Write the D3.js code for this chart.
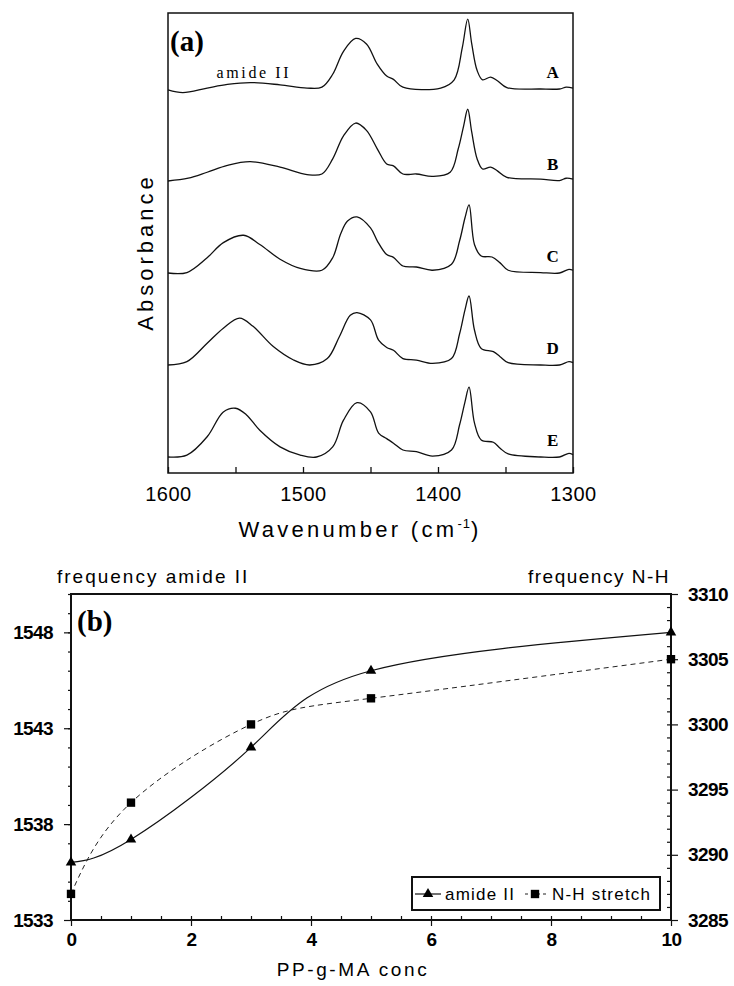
<!DOCTYPE html>
<html lang="en">
<head>
<meta charset="UTF-8">
<title>FTIR spectra and band frequencies</title>
<script src="https://d3js.org/d3.v7.min.js"></script>
<style>
  body { margin: 0; background: #fff; }
  svg { display: block; }
  .sans { font-family: "Liberation Sans", Arial, Helvetica, sans-serif; }
  .serif { font-family: "Liberation Serif", "Times New Roman", serif; }
</style>
</head>
<body>
<div id="chart"></div>
<script>
// ---- panel (a): spectra as [wavenumber, absorbance above own baseline] ----
const specA = [[1600,-0.01],[1589,-0.04],[1571,0.01],[1556,0.05],[1539,0.07],[1517,0.045],[1497,0.01],[1486,0.02],
  [1478,0.16],[1470,0.41],[1461,0.55],[1453,0.49],[1445,0.27],[1438,0.14],[1433,0.105],[1426,0.02],[1398,0.01],
  [1388,0.1],[1382,0.45],[1378,0.76],[1375,0.49],[1371,0.2],[1367,0.1],[1361,0.13],[1356,0.09],[1349,0.015],
  [1324,0],[1310,0],[1305,0.02],[1300,0.01]];
const specB = [[1600,0],[1585,0.03],[1571,0.095],[1556,0.17],[1539,0.21],[1517,0.15],[1497,0.07],[1486,0.076],
  [1478,0.24],[1470,0.49],[1461,0.63],[1453,0.55],[1445,0.35],[1438,0.185],[1433,0.165],[1426,0.076],[1416,0.076],
  [1404,0.05],[1391,0.095],[1385,0.35],[1381,0.6],[1378,0.78],[1375,0.53],[1371,0.24],[1367,0.13],[1361,0.15],
  [1356,0.11],[1349,0.04],[1324,0.02],[1310,0.005],[1305,0.03],[1300,0.02]];
const specC = [[1600,0],[1586,0.005],[1571,0.166],[1559,0.33],[1544,0.41],[1532,0.31],[1517,0.15],[1502,0.05],
  [1486,0.03],[1478,0.166],[1472,0.43],[1467,0.565],[1460,0.61],[1450,0.49],[1445,0.35],[1438,0.2],[1433,0.17],
  [1426,0.076],[1416,0.065],[1404,0.03],[1390,0.095],[1384,0.35],[1380,0.6],[1377,0.74],[1373,0.31],[1368,0.185],
  [1360,0.174],[1354,0.11],[1348,0.03],[1324,0.005],[1310,0],[1303,0.04],[1300,0.03]];
const specD = [[1600,0],[1586,0.036],[1571,0.236],[1559,0.4],[1547,0.51],[1537,0.42],[1522,0.2],[1507,0.054],
  [1495,0],[1482,0.07],[1473,0.31],[1465,0.54],[1460,0.57],[1450,0.49],[1444,0.27],[1438,0.19],[1433,0.16],
  [1426,0.07],[1416,0.054],[1404,0.018],[1390,0.07],[1384,0.34],[1380,0.6],[1377,0.75],[1373,0.38],[1368,0.18],
  [1359,0.145],[1354,0.09],[1348,0.025],[1324,0],[1310,0],[1303,0.036],[1300,0.025]];
const specE = [[1600,0],[1586,0.02],[1571,0.22],[1559,0.49],[1550,0.53],[1542,0.46],[1532,0.29],[1517,0.11],
  [1502,0.02],[1490,0],[1478,0.11],[1470,0.4],[1460,0.59],[1450,0.49],[1444,0.26],[1438,0.2],[1433,0.15],
  [1426,0.076],[1416,0.058],[1404,0.01],[1390,0.076],[1384,0.35],[1380,0.6],[1377,0.76],[1373,0.37],[1368,0.185],
  [1359,0.16],[1354,0.095],[1348,0.033],[1324,0],[1310,0],[1303,0.04],[1300,0.025]];
const spectra = [specA, specB, specC, specD, specE];
const specLabels = ["A", "B", "C", "D", "E"];
const specOffsets = [4, 3, 2, 1, 0];
const wnTicks = [1600, 1550, 1500, 1450, 1400, 1350, 1300];

// ---- panel (b): band frequency vs PP-g-MA concentration ----
const conc = [0, 1, 3, 5, 10];
const amideFreq = [1536.0, 1537.2, 1542.0, 1546.0, 1548.0];
const nhFreq = [3287, 3294, 3300, 3302, 3305];
const concTicks = [0, 2, 4, 6, 8, 10];
const amideTicks = [1533, 1538, 1543, 1548];
const nhTicks = [3285, 3290, 3295, 3300, 3305, 3310];

const svg = d3.select("#chart").append("svg")
  .attr("width", 734).attr("height", 986);
svg.append("rect").attr("width", 734).attr("height", 986).attr("fill", "#fff");

// ================= panel (a) =================
const xA = d3.scaleLinear().domain([1600, 1300]).range([168, 573]);
const yA = d3.scaleLinear().domain([-0.174, 4.826]).range([473, 13]);

const line = d3.line().curve(d3.curveCatmullRom.alpha(0.5));

spectra.forEach((spec, i) => {
  svg.append("path")
    .attr("d", line(spec.map(d => [xA(d[0]), yA(d[1] + specOffsets[i])])))
    .attr("fill", "none")
    .attr("stroke", "#111")
    .attr("stroke-width", 1.3);

  svg.append("text")
    .attr("class", "serif")
    .attr("x", xA(1315)).attr("y", yA(specOffsets[i] + 0.115))
    .attr("text-anchor", "middle")
    .attr("font-size", 17).attr("font-weight", "bold")
    .text(specLabels[i]);
});

// frame
svg.append("rect")
  .attr("x", xA(1600)).attr("y", yA.range()[1])
  .attr("width", xA(1300) - xA(1600)).attr("height", yA.range()[0] - yA.range()[1])
  .attr("fill", "none").attr("stroke", "#111").attr("stroke-width", 1.5);

const axA = svg.append("g")
  .attr("transform", `translate(0,${yA.range()[0]})`)
  .call(d3.axisBottom(xA).tickValues(wnTicks).tickSize(-6).tickPadding(14)
    .tickFormat(d => d % 100 === 0 ? d : ""));
axA.select(".domain").remove();
axA.selectAll("line").attr("stroke", "#111").attr("stroke-width", 1.3);
axA.selectAll("text").attr("class", "sans").attr("font-size", 20)
  .attr("letter-spacing", 0.5).attr("fill", "#000");

svg.append("text").attr("class", "serif")
  .attr("x", 170).attr("y", 51)
  .attr("font-size", 29).attr("font-weight", "bold").text("(a)");

svg.append("text").attr("class", "serif")
  .attr("x", xA(1564)).attr("y", yA(4.12))
  .attr("font-size", 16).attr("letter-spacing", 2.6)
  .text("amide II");

const wn = svg.append("text").attr("class", "sans")
  .attr("x", 360).attr("y", 537)
  .attr("text-anchor", "middle")
  .attr("font-size", 22).attr("letter-spacing", 3.3);
wn.append("tspan").text("Wavenumber (cm");
wn.append("tspan").attr("font-size", 13).attr("dy", -9).attr("letter-spacing", 1).text("-1");
wn.append("tspan").attr("dy", 9).text(")");

svg.append("text").attr("class", "sans")
  .attr("transform", "translate(153,252) rotate(-90)")
  .attr("text-anchor", "middle")
  .attr("font-size", 22).attr("letter-spacing", 4)
  .text("Absorbance");

// ================= panel (b) =================
const xB = d3.scaleLinear().domain([0, 10]).range([71, 671]);
const yL = d3.scaleLinear().domain([1533, 1550]).range([920, 594]);
const yR = d3.scaleLinear().domain([3285, 3310]).range([920, 594]);
const fmt = d3.format("d");

function styleAxis(g) {
  g.select(".domain").remove();
  g.selectAll("line").attr("stroke", "#111").attr("stroke-width", 1.2);
  g.selectAll("text").attr("class", "sans").attr("font-size", 19)
    .attr("font-weight", "bold").attr("letter-spacing", -0.6).attr("fill", "#000");
}

// minor ticks
svg.append("g").attr("transform", `translate(${xB(0)},0)`)
  .call(d3.axisLeft(yL).tickValues(d3.range(1534, 1551)).tickSize(3).tickFormat(""))
  .call(styleAxis);
svg.append("g").attr("transform", `translate(${xB(10)},0)`)
  .call(d3.axisRight(yR).tickValues(d3.range(3286, 3310)).tickSize(-4).tickFormat(""))
  .call(styleAxis);
svg.append("g").attr("transform", `translate(0,${yL(1533)})`)
  .call(d3.axisBottom(xB).tickValues(d3.range(0.5, 10, 0.5)).tickSize(-4).tickFormat(""))
  .call(styleAxis);

// major ticks + labels
svg.append("g").attr("transform", `translate(${xB(0)},0)`)
  .call(d3.axisLeft(yL).tickValues(amideTicks).tickSize(7).tickPadding(11).tickFormat(fmt))
  .call(styleAxis);
svg.append("g").attr("transform", `translate(${xB(10)},0)`)
  .call(d3.axisRight(yR).tickValues(nhTicks).tickSize(7).tickPadding(10).tickFormat(fmt))
  .call(styleAxis);
svg.append("g").attr("transform", `translate(0,${yL(1533)})`)
  .call(d3.axisBottom(xB).tickValues(concTicks).tickSize(6).tickPadding(7).tickFormat(fmt))
  .call(styleAxis);

// frame
svg.append("rect")
  .attr("x", xB(0)).attr("y", yL(1550))
  .attr("width", xB(10) - xB(0)).attr("height", yL(1533) - yL(1550))
  .attr("fill", "none").attr("stroke", "#111").attr("stroke-width", 2);

// series
const amidePts = conc.map((c, i) => [xB(c), yL(amideFreq[i])]);
const nhPts = conc.map((c, i) => [xB(c), yR(nhFreq[i])]);
const smooth = d3.line().curve(d3.curveNatural);

svg.append("path").attr("d", smooth(nhPts))
  .attr("fill", "none").attr("stroke", "#222").attr("stroke-width", 1)
  .attr("stroke-dasharray", "5,4");
svg.append("path").attr("d", smooth(amidePts))
  .attr("fill", "none").attr("stroke", "#111").attr("stroke-width", 1.2);

const tri = d3.symbol().type(d3.symbolTriangle).size(48);
const sq = d3.symbol().type(d3.symbolSquare).size(70);

svg.selectAll(".tri").data(amidePts).join("path")
  .attr("class", "tri").attr("d", tri)
  .attr("transform", d => `translate(${d[0]},${d[1]})`).attr("fill", "#000");
svg.selectAll(".sq").data(nhPts).join("path")
  .attr("class", "sq").attr("d", sq)
  .attr("transform", d => `translate(${d[0]},${d[1]})`).attr("fill", "#000");

// legend
const lg = svg.append("g").attr("transform", "translate(412,877)");
lg.append("rect").attr("width", 248).attr("height", 33)
  .attr("fill", "#fff").attr("stroke", "#111").attr("stroke-width", 2);
lg.append("line").attr("x1", 3).attr("x2", 29).attr("y1", 17).attr("y2", 17)
  .attr("stroke", "#111").attr("stroke-width", 1.2);
lg.append("path").attr("d", tri).attr("transform", "translate(16,17)");
lg.append("text").attr("class", "sans").attr("x", 33).attr("y", 23)
  .attr("font-size", 17).attr("letter-spacing", 1.2).text("amide II");
lg.append("line").attr("x1", 113).attr("x2", 134).attr("y1", 17).attr("y2", 17)
  .attr("stroke", "#222").attr("stroke-width", 1).attr("stroke-dasharray", "3,3");
lg.append("path").attr("d", sq).attr("transform", "translate(123,17)");
lg.append("text").attr("class", "sans").attr("x", 140).attr("y", 23)
  .attr("font-size", 17).attr("letter-spacing", 1.2).text("N-H stretch");

// titles
svg.append("text").attr("class", "serif")
  .attr("x", 77).attr("y", 631)
  .attr("font-size", 29).attr("font-weight", "bold").text("(b)");
svg.append("text").attr("class", "sans")
  .attr("x", 57).attr("y", 583)
  .attr("font-size", 19).attr("letter-spacing", 2)
  .text("frequency amide II");
svg.append("text").attr("class", "sans")
  .attr("x", 670).attr("y", 583).attr("text-anchor", "end")
  .attr("font-size", 19).attr("letter-spacing", 1.5)
  .text("frequency N-H");
svg.append("text").attr("class", "sans")
  .attr("x", 353).attr("y", 976).attr("text-anchor", "middle")
  .attr("font-size", 19).attr("letter-spacing", 2.6)
  .text("PP-g-MA conc");
</script>
</body>
</html>
